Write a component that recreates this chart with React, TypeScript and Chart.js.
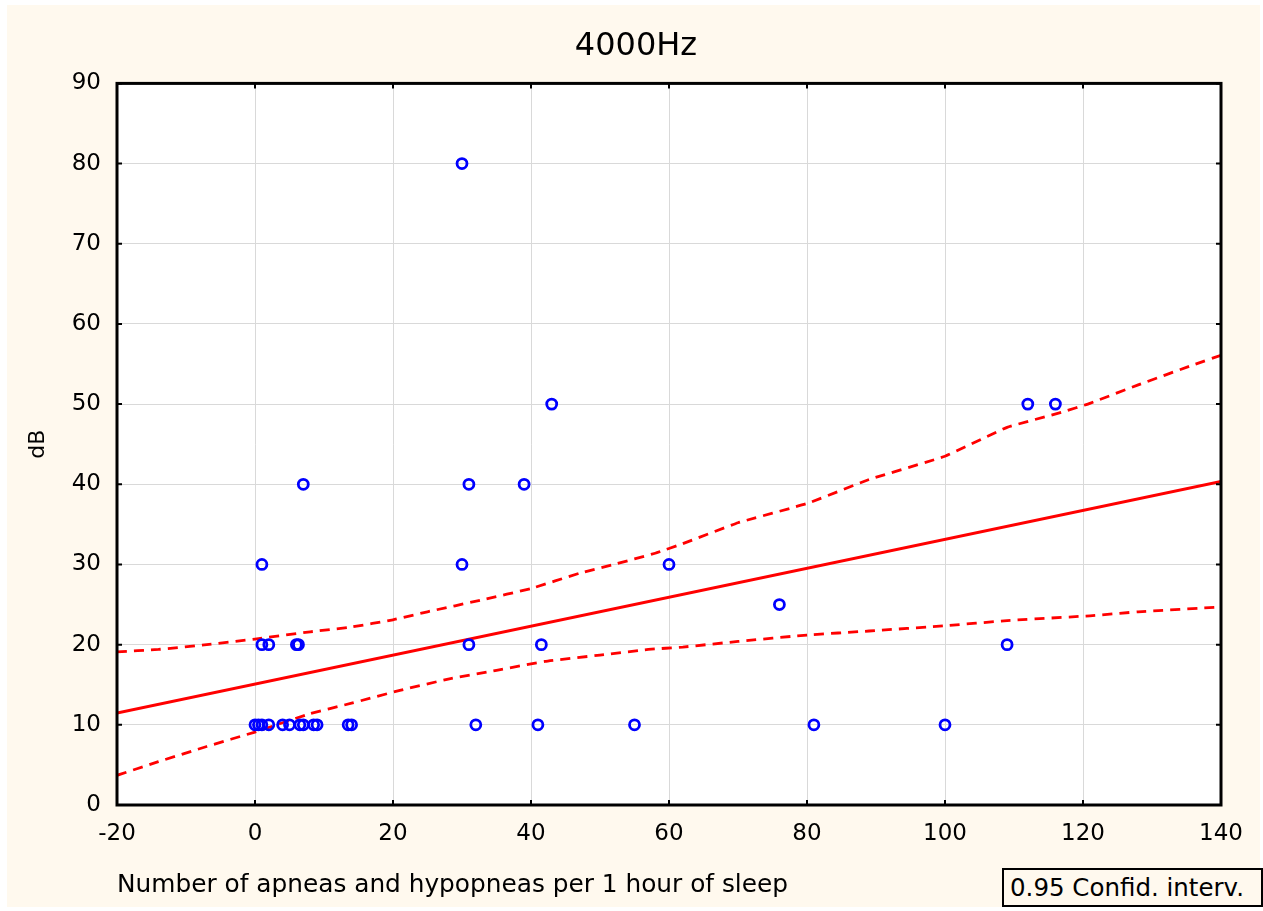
import React, { useEffect, useRef } from "react";
import { Chart, registerables } from "chart.js";

Chart.register(...registerables);

const titleText = "4000Hz";
const xAxisLabel = "Number of apneas and hypopneas per 1 hour of sleep";
const yAxisLabel = "dB";
const legendText = "0.95 Confid. interv.";

const xTicks = [-20, 0, 20, 40, 60, 80, 100, 120, 140];
const yTicks = [0, 10, 20, 30, 40, 50, 60, 70, 80, 90];

// observed points
const pointX = [
  0, 0.5, 1, 2, 4, 5, 6.5, 7, 8.5, 9, 13.5, 14, 32, 41, 55, 81, 100,
  1, 2, 6, 6.3, 31, 41.5, 109,
  76,
  1, 30, 60,
  7, 31, 39,
  43, 112, 116,
  30,
];
const pointY = [
  10, 10, 10, 10, 10, 10, 10, 10, 10, 10, 10, 10, 10, 10, 10, 10, 10,
  20, 20, 20, 20, 20, 20, 20,
  25,
  30, 30, 30,
  40, 40, 40,
  50, 50, 50,
  80,
];

// fitted regression line
const fitX = [-20, 140];
const fitY = [11.47, 40.35];

// 0.95 confidence band
const upperX = [-20, -14, -7, 0, 8, 14, 20, 25, 33, 40, 47, 52, 58, 62, 70, 80, 89, 100, 109, 117, 121, 128, 136, 140];
const upperY = [19.1, 19.4, 20.0, 20.7, 21.6, 22.2, 23.1, 24.1, 25.6, 27.0, 28.9, 30.0, 31.4, 32.6, 35.2, 37.6, 40.6, 43.5, 47.1, 49.0, 50.1, 52.4, 54.9, 56.1];
const lowerX = [-20, -14, -7, 0, 8, 14, 21, 28, 35, 42, 50, 57, 62, 70, 80, 89, 100, 109, 121, 128, 140];
const lowerY = [3.7, 5.4, 7.3, 9.1, 11.4, 12.7, 14.3, 15.7, 16.8, 17.9, 18.7, 19.4, 19.7, 20.4, 21.2, 21.7, 22.35, 23.0, 23.6, 24.1, 24.7];

const FONT = "'DejaVu Sans', Verdana, sans-serif";
const CREAM = "#FFF9EE";

const toXY = (xs: number[], ys: number[]) => xs.map((x, i) => ({ x, y: ys[i] }));

const framePlugin = {
  id: "frame",
  beforeDraw(chart: any) {
    const { ctx, chartArea } = chart;
    const { left, top, right, bottom } = chartArea;
    ctx.save();
    ctx.fillStyle = "#ffffff";
    ctx.fillRect(left, top, right - left, bottom - top);
    ctx.restore();
  },
  afterDraw(chart: any) {
    const { ctx, chartArea, scales } = chart;
    const { left, top, right, bottom } = chartArea;
    ctx.save();
    ctx.strokeStyle = "#000";
    ctx.lineWidth = 2;
    ctx.beginPath();
    const len = 5;
    xTicks.forEach((v) => {
      const px = scales.x.getPixelForValue(v);
      ctx.moveTo(px, bottom);
      ctx.lineTo(px, bottom - len);
      ctx.moveTo(px, top);
      ctx.lineTo(px, top + len);
    });
    yTicks.forEach((v) => {
      const py = scales.y.getPixelForValue(v);
      ctx.moveTo(left, py);
      ctx.lineTo(left + len, py);
      ctx.moveTo(right, py);
      ctx.lineTo(right - len, py);
    });
    ctx.stroke();
    ctx.lineWidth = 3;
    ctx.strokeRect(left, top, right - left, bottom - top);
    ctx.restore();
  },
};

export default function App() {
  const canvasRef = useRef<HTMLCanvasElement | null>(null);

  useEffect(() => {
    const canvas = canvasRef.current;
    if (!canvas) return;
    const ciStyle = {
      showLine: true,
      borderColor: "#FF0000",
      borderWidth: 2.8,
      borderDash: [10, 7],
      pointRadius: 0,
      fill: false,
      tension: 0.1,
    };
    const chart = new Chart(canvas, {
      type: "scatter",
      data: {
        datasets: [
          {
            label: "Observed",
            data: toXY(pointX, pointY),
            pointStyle: "circle",
            pointRadius: 5,
            pointBorderWidth: 2.8,
            borderColor: "#0000FF",
            backgroundColor: "rgba(0,0,0,0)",
            showLine: false,
          },
          {
            label: "Fit",
            data: toXY(fitX, fitY),
            showLine: true,
            borderColor: "#FF0000",
            borderWidth: 2.8,
            pointRadius: 0,
            fill: false,
          },
          { label: "Upper 0.95", data: toXY(upperX, upperY), ...ciStyle },
          { label: "Lower 0.95", data: toXY(lowerX, lowerY), ...ciStyle },
        ],
      },
      options: {
        responsive: false,
        animation: false,
        events: [],
        layout: { padding: { left: 5, right: 0, top: 0, bottom: 0 } },
        plugins: {
          legend: { display: false },
          tooltip: { enabled: false },
          title: {
            display: true,
            text: titleText,
            color: "#000",
            font: { family: FONT, size: 32, weight: "normal", lineHeight: 1.2 },
            padding: { top: 22, bottom: 18 },
          },
        },
        scales: {
          x: {
            type: "linear",
            min: -20,
            max: 140,
            afterBuildTicks: (scale: any) => {
              scale.ticks = xTicks.map((v) => ({ value: v }));
            },
            afterFit: (scale: any) => {
              scale.height = 102;
            },
            grid: { color: "#D9D9D9", lineWidth: 1, drawTicks: false },
            border: { display: false },
            ticks: {
              color: "#000",
              padding: 15,
              maxRotation: 0,
              font: { family: FONT, size: 23 },
            },
            title: {
              display: true,
              text: xAxisLabel,
              align: "start",
              color: "#000",
              font: { family: FONT, size: 24.8, lineHeight: 1.2 },
              padding: { top: 0, bottom: 7 },
            },
          },
          y: {
            type: "linear",
            min: 0,
            max: 90,
            afterBuildTicks: (scale: any) => {
              scale.ticks = yTicks.map((v) => ({ value: v }));
            },
            afterFit: (scale: any) => {
              scale.width = 105;
            },
            grid: { color: "#D9D9D9", lineWidth: 1, drawTicks: false },
            border: { display: false },
            ticks: {
              color: "#000",
              padding: 16,
              font: { family: FONT, size: 23 },
            },
            title: {
              display: true,
              text: yAxisLabel,
              color: "#000",
              font: { family: FONT, size: 22, lineHeight: 1.2 },
              padding: { top: 13, bottom: 0 },
            },
          },
          yRight: {
            type: "linear",
            position: "right",
            display: true,
            min: 0,
            max: 90,
            afterFit: (scale: any) => {
              scale.width = 39;
            },
            grid: { display: false, drawTicks: false },
            border: { display: false },
            ticks: { display: false },
          },
        },
      },
      plugins: [framePlugin],
    } as any);
    return () => chart.destroy();
  }, []);

  return (
    <div
      style={{
        position: "absolute",
        left: 7,
        top: 5,
        width: 1253,
        height: 902,
        background: CREAM,
      }}
    >
      <canvas ref={canvasRef} width={1253} height={902} style={{ display: "block" }} />
      <div
        style={{
          position: "absolute",
          left: 995,
          top: 863,
          width: 251,
          height: 35,
          border: "2px solid #000",
          background: CREAM,
          fontFamily: FONT,
          fontSize: 24.5,
          lineHeight: "35px",
          paddingLeft: 6,
          boxSizing: "content-box",
          whiteSpace: "nowrap",
          color: "#000",
        }}
      >
        {legendText}
      </div>
    </div>
  );
}
